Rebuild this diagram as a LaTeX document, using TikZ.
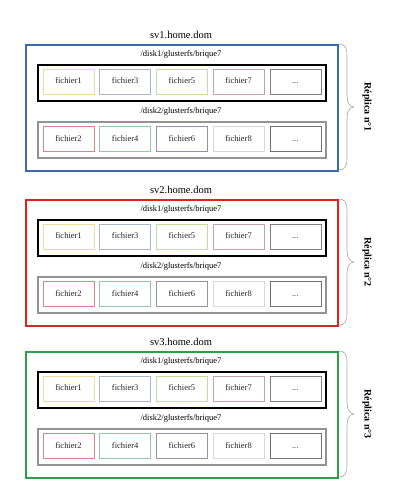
\documentclass[tikz,border=0pt]{standalone}
\usepackage{fontspec}
\setmainfont{Liberation Serif}
\definecolor{srvcolA}{HTML}{3E6AA8}
\definecolor{srvcolB}{HTML}{E02222}
\definecolor{srvcolC}{HTML}{2E9E44}
\definecolor{bracecol}{HTML}{A8A8A8}
\definecolor{fa}{HTML}{EEDC98}
\definecolor{fb}{HTML}{A8B8C8}
\definecolor{fc}{HTML}{C4DC9C}
\definecolor{fd}{HTML}{C8A0A8}
\definecolor{fe}{HTML}{808080}
\definecolor{ga}{HTML}{D08890}
\definecolor{gb}{HTML}{90C8A8}
\definecolor{gc}{HTML}{9890A8}
\definecolor{gd}{HTML}{D8D8D8}
\definecolor{ge}{HTML}{707070}
\newcommand\mydots{...}
\tikzset{
  server/.style={draw=#1, line width=1.6pt, minimum width=312pt, minimum height=126pt, anchor=north west, inner sep=0pt},
  diskbox/.style={draw=#1, line width=1.8pt, minimum width=288pt, minimum height=36pt, anchor=north west, inner sep=0pt},
  filebox/.style={draw=#1, line width=0.6pt, minimum width=51pt, minimum height=25pt, inner sep=0pt, text height=6pt, text depth=1.5pt, text=black!85, font=\fontsize{8.5}{10}\selectfont},
  disklabel/.style={font=\fontsize{8.5}{10}\selectfont, inner sep=0pt},
  srvtitle/.style={font=\fontsize{10.5}{12}\selectfont, inner sep=0pt},
  replabel/.style={font=\fontsize{10}{12}\selectfont\bfseries, rotate=-90, inner sep=0pt, text=black},
  bracestyle/.style={draw=bracecol, line width=0.6pt}
}
\begin{document}
\begin{tikzpicture}[x=1pt,y=-1pt]
\useasboundingbox (0,0) rectangle (400,500);
\foreach \i/\T in {1/44, 2/199, 3/351} {
  \coordinate (bt\i) at (339,\T);
  \coordinate (bb\i) at (339,\T+126);
  \draw[bracestyle] (bt\i) .. controls (345,\T) and (347,\T+4) .. (347,\T+12)
      -- (347,\T+52) .. controls (347,\T+59) and (350,\T+63) .. (354,\T+63)
      .. controls (350,\T+63) and (347,\T+67) .. (347,\T+74)
      -- (347,\T+114) .. controls (347,\T+122) and (345,\T+126) .. (bb\i);
  \node[replabel] (rep\i) at (367,\T+63) {Réplica n°\i};
}
\foreach \i/\T/\sc in {1/44/A, 2/199/B, 3/351/C} {
  \node[server=srvcol\sc] (srv\i) at (25,\T) {};
  \node[srvtitle] (title\i) at (181,\T-9) {sv\i.home.dom};
  \node[disklabel] (dla\i) at (181,\T+10) {/disk1/glusterfs/brique7};
  \node[diskbox=black] (diska\i) at (37,\T+20) {};
  \node[disklabel] (dlb\i) at (181,\T+67.5) {/disk2/glusterfs/brique7};
  \node[diskbox=gray!85] (diskb\i) at (37,\T+77) {};
  \foreach \k/\txt/\c/\x in {1/fichier1/fa/68.5, 2/fichier3/fb/125.2, 3/fichier5/fc/181.9, 4/fichier7/fd/238.6, 5/\mydots/fe/295.3} {
    \node[filebox=\c] (fa\i\k) at (\x,\T+37.5) {\txt};
  }
  \foreach \k/\txt/\c/\x in {1/fichier2/ga/68.5, 2/fichier4/gb/125.2, 3/fichier6/gc/181.9, 4/fichier8/gd/238.6, 5/\mydots/ge/295.3} {
    \node[filebox=\c] (fb\i\k) at (\x,\T+95) {\txt};
  }
}
\end{tikzpicture}
\end{document}
